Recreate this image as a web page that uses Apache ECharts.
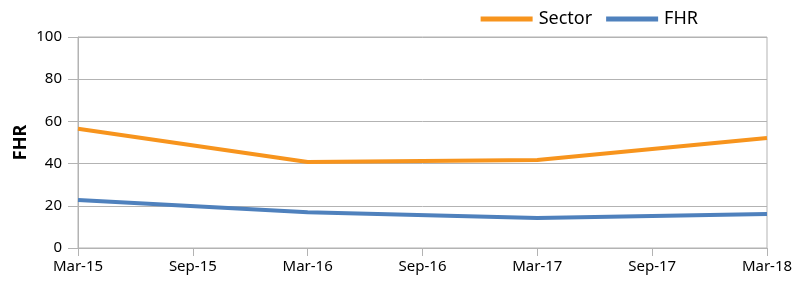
<!DOCTYPE html>
<html><head><meta charset="utf-8">
<script src="https://cdn.jsdelivr.net/npm/echarts@6/dist/echarts.min.js"></script>
<style>html,body{margin:0;padding:0;background:#fff}#c{width:806px;height:286px}</style>
</head><body><div id="c"></div>
<script>
const categories = ['Mar-15','Sep-15','Mar-16','Sep-16','Mar-17','Sep-17','Mar-18'];
const sectorValues = [56.5, null, 40.8, null, 41.7, null, 52.1];
const fhrValues = [22.8, null, 17.0, null, 14.2, null, 16.1];
const yTicks = [0, 20, 40, 60, 80, 100];

const chart = echarts.init(document.getElementById('c'));
const font = 'Noto Sans';
chart.setOption({
  animation: false,
  grid: {left: 78, right: 39, top: 37, bottom: 38, show: true, borderColor: '#b3b3b3', borderWidth: 1},
  legend: {
    right: 103, top: 5, itemWidth: 52, itemHeight: 5, itemGap: 14, itemStyle: {borderWidth: 0},
    icon: 'rect',
    textStyle: {fontFamily: font, fontSize: 18, color: '#000', padding: [0, 0, 0, 1]},
    data: ['Sector', 'FHR']
  },
  xAxis: {
    type: 'category', data: categories, boundaryGap: false,
    axisLine: {lineStyle: {color: '#b3b3b3'}},
    axisTick: {show: true, length: 8, lineStyle: {color: '#b3b3b3'}},
    axisLabel: {color: '#000', fontFamily: font, fontSize: 15, margin: 11}
  },
  yAxis: {
    type: 'value', min: yTicks[0], max: yTicks[yTicks.length-1], interval: 20,
    name: 'FHR', nameLocation: 'middle', nameGap: 48, nameMoveOverlap: false,
    nameTextStyle: {fontFamily: font, fontWeight: 'bold', fontSize: 18, color: '#000'},
    axisLine: {show: true, lineStyle: {color: '#b3b3b3'}},
    axisTick: {show: true, length: 10, lineStyle: {color: '#b3b3b3'}},
    axisLabel: {color: '#000', fontFamily: font, fontSize: 15, margin: 16},
    splitLine: {lineStyle: {color: '#b3b3b3'}}
  },
  series: [
    {name: 'Sector', type: 'line', data: sectorValues, connectNulls: true, showSymbol: false, symbol: 'none',
     itemStyle: {color: '#F7941D'}, lineStyle: {color: '#F7941D', width: 4}},
    {name: 'FHR', type: 'line', data: fhrValues, connectNulls: true, showSymbol: false, symbol: 'none',
     itemStyle: {color: '#4F81BD'}, lineStyle: {color: '#4F81BD', width: 4}}
  ]
});
</script></body></html>
